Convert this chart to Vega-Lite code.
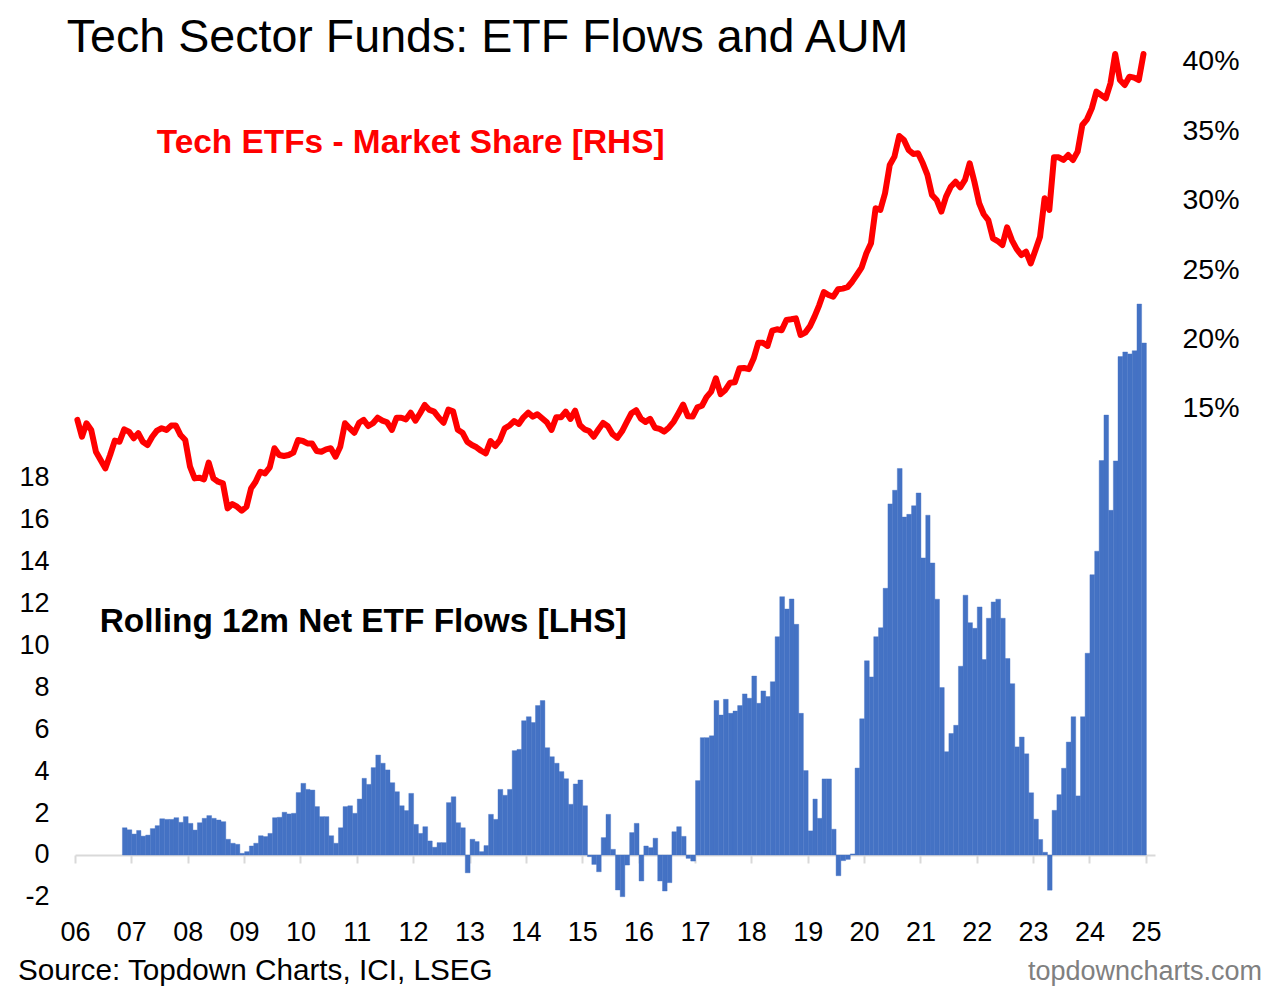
{
"$schema":"https://vega.github.io/schema/vega-lite/v6.json",
"width":1080,"height":875,"autosize":"none",
"padding":{"left":75,"top":30,"right":122,"bottom":85},
"background":"white",
"config":{"view":{"stroke":null},"font":"Liberation Sans","axis":{"grid":false,"labelFont":"Liberation Sans","labelColor":"#000000"}},
"data":{"format":{"parse":{"d":"date:'%Y-%m'"}},"values":[
{"d":"2006-01","s":14.14},{"d":"2006-02","s":12.93},{"d":"2006-03","s":13.9},{"d":"2006-04","s":13.42},{"d":"2006-05","s":11.85},{"d":"2006-06","s":11.25},{"d":"2006-07","s":10.65},{"d":"2006-08","s":11.61},{"d":"2006-09","s":12.65},{"d":"2006-10","s":12.57},{"d":"2006-11","s":13.46,"f":1.30},{"d":"2006-12","s":13.3,"f":1.20},
{"d":"2007-01","s":12.82,"f":1.00},{"d":"2007-02","s":13.18,"f":1.17},{"d":"2007-03","s":12.57,"f":0.90},{"d":"2007-04","s":12.33,"f":0.95},{"d":"2007-05","s":12.93,"f":1.26},{"d":"2007-06","s":13.37,"f":1.40},{"d":"2007-07","s":13.54,"f":1.73},{"d":"2007-08","s":13.42,"f":1.70},{"d":"2007-09","s":13.73,"f":1.70},{"d":"2007-10","s":13.73,"f":1.78},{"d":"2007-11","s":13.05,"f":1.56},{"d":"2007-12","s":12.69,"f":1.83},
{"d":"2008-01","s":10.77,"f":1.51},{"d":"2008-02","s":9.93,"f":1.19},{"d":"2008-03","s":9.98,"f":1.54},{"d":"2008-04","s":9.86,"f":1.75},{"d":"2008-05","s":11.06,"f":1.88},{"d":"2008-06","s":9.93,"f":1.75},{"d":"2008-07","s":9.69,"f":1.67},{"d":"2008-08","s":9.57,"f":1.59},{"d":"2008-09","s":7.77,"f":0.75},{"d":"2008-10","s":8.08,"f":0.56},{"d":"2008-11","s":7.89,"f":0.51},{"d":"2008-12","s":7.6,"f":0.08},
{"d":"2009-01","s":7.89,"f":0.16},{"d":"2009-02","s":9.21,"f":0.43},{"d":"2009-03","s":9.69,"f":0.56},{"d":"2009-04","s":10.41,"f":0.92},{"d":"2009-05","s":10.29,"f":0.88},{"d":"2009-06","s":10.72,"f":1.03},{"d":"2009-07","s":12.1,"f":1.78},{"d":"2009-08","s":11.61,"f":1.80},{"d":"2009-09","s":11.54,"f":2.04},{"d":"2009-10","s":11.61,"f":1.96},{"d":"2009-11","s":11.78,"f":1.99},{"d":"2009-12","s":12.69,"f":2.98},
{"d":"2010-01","s":12.62,"f":3.42},{"d":"2010-02","s":12.45,"f":3.13},{"d":"2010-03","s":12.45,"f":3.10},{"d":"2010-04","s":11.9,"f":2.31},{"d":"2010-05","s":11.85,"f":1.83},{"d":"2010-06","s":12.02,"f":1.83},{"d":"2010-07","s":12.1,"f":0.92},{"d":"2010-08","s":11.49,"f":0.56},{"d":"2010-09","s":12.21,"f":1.30},{"d":"2010-10","s":13.9,"f":2.31},{"d":"2010-11","s":13.54,"f":2.35},{"d":"2010-12","s":13.22,"f":1.99},
{"d":"2011-01","s":13.94,"f":2.67},{"d":"2011-02","s":14.14,"f":3.66},{"d":"2011-03","s":13.7,"f":3.37},{"d":"2011-04","s":13.9,"f":4.17},{"d":"2011-05","s":14.3,"f":4.77},{"d":"2011-06","s":14.09,"f":4.38},{"d":"2011-07","s":13.97,"f":4.06},{"d":"2011-08","s":13.42,"f":3.45},{"d":"2011-09","s":14.3,"f":3.02},{"d":"2011-10","s":14.3,"f":2.35},{"d":"2011-11","s":14.18,"f":2.12},{"d":"2011-12","s":14.66,"f":2.94},
{"d":"2012-01","s":14.09,"f":1.46},{"d":"2012-02","s":14.62,"f":1.03},{"d":"2012-03","s":15.22,"f":1.35},{"d":"2012-04","s":14.86,"f":0.67},{"d":"2012-05","s":14.74,"f":0.37},{"d":"2012-06","s":14.3,"f":0.59},{"d":"2012-07","s":13.94,"f":0.59},{"d":"2012-08","s":14.88,"f":2.50},{"d":"2012-09","s":14.76,"f":2.78},{"d":"2012-10","s":13.44,"f":1.54},{"d":"2012-11","s":13.22,"f":1.30},{"d":"2012-12","s":12.57,"f":-0.85},
{"d":"2013-01","s":12.33,"f":0.75},{"d":"2013-02","s":12.17,"f":0.64},{"d":"2013-03","s":11.92,"f":0.16},{"d":"2013-04","s":11.73,"f":0.45},{"d":"2013-05","s":12.62,"f":1.94},{"d":"2013-06","s":12.26,"f":1.70},{"d":"2013-07","s":12.69,"f":3.13},{"d":"2013-08","s":13.54,"f":2.85},{"d":"2013-09","s":13.73,"f":3.13},{"d":"2013-10","s":14.06,"f":4.98},{"d":"2013-11","s":13.85,"f":5.04},{"d":"2013-12","s":14.33,"f":6.41},
{"d":"2014-01","s":14.66,"f":6.60},{"d":"2014-02","s":14.38,"f":6.32},{"d":"2014-03","s":14.55,"f":7.13},{"d":"2014-04","s":14.26,"f":7.37},{"d":"2014-05","s":13.97,"f":5.12},{"d":"2014-06","s":13.42,"f":4.69},{"d":"2014-07","s":14.33,"f":4.38},{"d":"2014-08","s":14.33,"f":3.98},{"d":"2014-09","s":14.74,"f":3.64},{"d":"2014-10","s":14.21,"f":2.42},{"d":"2014-11","s":14.81,"f":3.39},{"d":"2014-12","s":13.78,"f":3.58},
{"d":"2015-01","s":13.46,"f":2.35},{"d":"2015-02","s":13.34,"f":-0.08},{"d":"2015-03","s":12.93,"f":-0.45},{"d":"2015-04","s":13.45,"f":-0.80},{"d":"2015-05","s":13.92,"f":0.83},{"d":"2015-06","s":13.68,"f":1.94},{"d":"2015-07","s":13.12,"f":0.27},{"d":"2015-08","s":12.85,"f":-1.67},{"d":"2015-09","s":13.32,"f":-1.99},{"d":"2015-10","s":13.98,"f":-0.48},{"d":"2015-11","s":14.62,"f":1.07},{"d":"2015-12","s":14.84,"f":1.51},
{"d":"2016-01","s":14.22,"f":-1.24},{"d":"2016-02","s":14.0,"f":0.43},{"d":"2016-03","s":14.22,"f":0.35},{"d":"2016-04","s":13.58,"f":0.80},{"d":"2016-05","s":13.5,"f":-1.24},{"d":"2016-06","s":13.3,"f":-1.72},{"d":"2016-07","s":13.6,"f":-1.32},{"d":"2016-08","s":14.02,"f":1.11},{"d":"2016-09","s":14.62,"f":1.35},{"d":"2016-10","s":15.25,"f":0.89},{"d":"2016-11","s":14.4,"f":-0.16},{"d":"2016-12","s":14.38,"f":-0.29},
{"d":"2017-01","s":15.04,"f":3.55},{"d":"2017-02","s":15.16,"f":5.60},{"d":"2017-03","s":15.78,"f":5.60},{"d":"2017-04","s":16.18,"f":5.69},{"d":"2017-05","s":17.14,"f":7.37},{"d":"2017-06","s":16.0,"f":6.68},{"d":"2017-07","s":16.3,"f":7.43},{"d":"2017-08","s":16.82,"f":6.76},{"d":"2017-09","s":16.85,"f":6.87},{"d":"2017-10","s":17.86,"f":7.13},{"d":"2017-11","s":17.88,"f":7.69},{"d":"2017-12","s":17.8,"f":7.48},
{"d":"2018-01","s":18.58,"f":8.54},{"d":"2018-02","s":19.7,"f":7.24},{"d":"2018-03","s":19.7,"f":7.83},{"d":"2018-04","s":19.47,"f":7.56},{"d":"2018-05","s":20.57,"f":8.27},{"d":"2018-06","s":20.67,"f":10.42},{"d":"2018-07","s":20.6,"f":12.33},{"d":"2018-08","s":21.34,"f":11.74},{"d":"2018-09","s":21.39,"f":12.22},{"d":"2018-10","s":21.46,"f":11.01},{"d":"2018-11","s":20.26,"f":6.76},{"d":"2018-12","s":20.43,"f":4.03},
{"d":"2019-01","s":20.9,"f":1.15},{"d":"2019-02","s":21.6,"f":2.67},{"d":"2019-03","s":22.4,"f":1.75},{"d":"2019-04","s":23.35,"f":3.63},{"d":"2019-05","s":23.14,"f":3.63},{"d":"2019-06","s":23.02,"f":1.23},{"d":"2019-07","s":23.55,"f":-0.99},{"d":"2019-08","s":23.6,"f":-0.27},{"d":"2019-09","s":23.7,"f":-0.21},{"d":"2019-10","s":24.1,"f":0.05},{"d":"2019-11","s":24.6,"f":4.15},{"d":"2019-12","s":25.11,"f":6.50},
{"d":"2020-01","s":26.15,"f":9.27},{"d":"2020-02","s":26.87,"f":8.50},{"d":"2020-03","s":29.39,"f":10.42},{"d":"2020-04","s":29.27,"f":10.85},{"d":"2020-05","s":30.47,"f":12.73},{"d":"2020-06","s":32.51,"f":16.76},{"d":"2020-07","s":33.11,"f":17.41},{"d":"2020-08","s":34.6,"f":18.45},{"d":"2020-09","s":34.31,"f":16.13},{"d":"2020-10","s":33.59,"f":16.26},{"d":"2020-11","s":33.3,"f":16.67},{"d":"2020-12","s":33.35,"f":17.28},
{"d":"2021-01","s":32.63,"f":14.18},{"d":"2021-02","s":31.79,"f":16.22},{"d":"2021-03","s":30.35,"f":13.94},{"d":"2021-04","s":29.99,"f":12.21},{"d":"2021-05","s":29.15,"f":7.99},{"d":"2021-06","s":30.23,"f":4.93},{"d":"2021-07","s":30.94,"f":5.80},{"d":"2021-08","s":31.3,"f":6.19},{"d":"2021-09","s":30.9,"f":9.01},{"d":"2021-10","s":31.43,"f":12.40},{"d":"2021-11","s":32.63,"f":11.09},{"d":"2021-12","s":31.3,"f":10.82},
{"d":"2022-01","s":29.75,"f":11.84},{"d":"2022-02","s":28.96,"f":9.33},{"d":"2022-03","s":28.54,"f":11.30},{"d":"2022-04","s":27.22,"f":12.08},{"d":"2022-05","s":27.03,"f":12.21},{"d":"2022-06","s":26.74,"f":11.30},{"d":"2022-07","s":28.02,"f":9.38},{"d":"2022-08","s":27.1,"f":8.18},{"d":"2022-09","s":26.46,"f":5.16},{"d":"2022-10","s":26.02,"f":5.63},{"d":"2022-11","s":26.26,"f":4.83},{"d":"2022-12","s":25.42,"f":2.97},
{"d":"2023-01","s":26.38,"f":1.71},{"d":"2023-02","s":27.34,"f":0.74},{"d":"2023-03","s":30.11,"f":0.13},{"d":"2023-04","s":29.27,"f":-1.68},{"d":"2023-05","s":33.06,"f":2.13},{"d":"2023-06","s":33.06,"f":2.88},{"d":"2023-07","s":32.87,"f":4.14},{"d":"2023-08","s":33.23,"f":5.39},{"d":"2023-09","s":32.87,"f":6.60},{"d":"2023-10","s":33.47,"f":2.82},{"d":"2023-11","s":35.39,"f":6.60},{"d":"2023-12","s":35.8,"f":9.63},
{"d":"2024-01","s":36.59,"f":13.38},{"d":"2024-02","s":37.79,"f":14.50},{"d":"2024-03","s":37.55,"f":18.83},{"d":"2024-04","s":37.31,"f":21.00},{"d":"2024-05","s":38.39,"f":16.45},{"d":"2024-06","s":40.5,"f":18.81},{"d":"2024-07","s":38.63,"f":23.79},{"d":"2024-08","s":38.27,"f":24.01},{"d":"2024-09","s":38.87,"f":23.92},{"d":"2024-10","s":38.8,"f":24.07},{"d":"2024-11","s":38.63,"f":26.30},{"d":"2024-12","s":40.5,"f":24.44}
]},
"layer":[
{"layer":[
{"mark":{"type":"bar","color":"#4472c4","binSpacing":0,"stroke":"#4472c4","strokeWidth":0.4},
 "encoding":{
  "x":{"field":"d","timeUnit":"yearmonth","type":"temporal","title":null,
   "scale":{"domain":[{"year":2006,"month":1,"date":1},{"year":2025,"month":3,"date":1}],"nice":false},
   "axis":{"values":[{"year":2006,"month":1,"date":1},{"year":2007,"month":1,"date":1},{"year":2008,"month":1,"date":1},{"year":2009,"month":1,"date":1},{"year":2010,"month":1,"date":1},{"year":2011,"month":1,"date":1},{"year":2012,"month":1,"date":1},{"year":2013,"month":1,"date":1},{"year":2014,"month":1,"date":1},{"year":2015,"month":1,"date":1},{"year":2016,"month":1,"date":1},{"year":2017,"month":1,"date":1},{"year":2018,"month":1,"date":1},{"year":2019,"month":1,"date":1},{"year":2020,"month":1,"date":1},{"year":2021,"month":1,"date":1},{"year":2022,"month":1,"date":1},{"year":2023,"month":1,"date":1},{"year":2024,"month":1,"date":1},{"year":2025,"month":1,"date":1}],
    "format":"%y","formatType":"time","offset":-50,"domainColor":"#d9d9d9","domainWidth":2,"tickColor":"#d9d9d9","tickWidth":2,"tickSize":8,
    "labelFontSize":27,"labelPadding":56,"labelFlush":false,"labelOverlap":false,"labelBound":false}},
  "y":{"field":"f","type":"quantitative","title":null,
   "scale":{"domain":[-2.387,39.38],"nice":false,"zero":false},
   "axis":{"orient":"left","values":[-2,0,2,4,6,8,10,12,14,16,18],"labelExpr":"datum.value < 0 ? '-' + abs(datum.value) : '' + datum.value","domain":false,"ticks":false,"labelFontSize":27,"labelPadding":26}}
 }},
{"data":{"values":[{}]},
 "mark":{"type":"text","text":"Tech Sector Funds: ETF Flows and AUM","fontSize":46.6,"align":"left","baseline":"alphabetic","color":"#000000"},
 "encoding":{
  "x":{"datum":{"year":2005,"month":11,"date":9},"type":"temporal","title":null,"scale":{"domain":[{"year":2006,"month":1,"date":1},{"year":2025,"month":3,"date":1}],"nice":false}},
  "y":{"datum":38.33,"type":"quantitative","title":null,"scale":{"domain":[-2.387,39.38],"nice":false,"zero":false}}}},
{"data":{"values":[{}]},
 "mark":{"type":"text","text":"Tech ETFs - Market Share [RHS]","fontSize":33.4,"fontWeight":"bold","align":"left","baseline":"alphabetic","color":"#ff0000"},
 "encoding":{
  "x":{"datum":{"year":2007,"month":6,"date":15},"type":"temporal","title":null,"scale":{"domain":[{"year":2006,"month":1,"date":1},{"year":2025,"month":3,"date":1}],"nice":false}},
  "y":{"datum":33.51,"type":"quantitative","title":null,"scale":{"domain":[-2.387,39.38],"nice":false,"zero":false}}}},
{"data":{"values":[{}]},
 "mark":{"type":"text","text":"Rolling 12m Net ETF Flows [LHS]","fontSize":33.4,"fontWeight":"bold","align":"left","baseline":"alphabetic","color":"#000000"},
 "encoding":{
  "x":{"datum":{"year":2006,"month":6,"date":10},"type":"temporal","title":null,"scale":{"domain":[{"year":2006,"month":1,"date":1},{"year":2025,"month":3,"date":1}],"nice":false}},
  "y":{"datum":10.64,"type":"quantitative","title":null,"scale":{"domain":[-2.387,39.38],"nice":false,"zero":false}}}},
{"data":{"values":[{}]},
 "mark":{"type":"text","text":"Source: Topdown Charts, ICI, LSEG","fontSize":29.7,"align":"left","baseline":"alphabetic","color":"#000000"},
 "encoding":{
  "x":{"datum":{"year":2004,"month":12,"date":27},"type":"temporal","title":null,"scale":{"domain":[{"year":2006,"month":1,"date":1},{"year":2025,"month":3,"date":1}],"nice":false}},
  "y":{"datum":-5.95,"type":"quantitative","title":null,"scale":{"domain":[-2.387,39.38],"nice":false,"zero":false}}}},
{"data":{"values":[{}]},
 "mark":{"type":"text","text":"topdowncharts.com","fontSize":27,"align":"right","baseline":"alphabetic","color":"#808080"},
 "encoding":{
  "x":{"datum":{"year":2027,"month":1,"date":24},"type":"temporal","title":null,"scale":{"domain":[{"year":2006,"month":1,"date":1},{"year":2025,"month":3,"date":1}],"nice":false}},
  "y":{"datum":-5.95,"type":"quantitative","title":null,"scale":{"domain":[-2.387,39.38],"nice":false,"zero":false}}}}
]},
{"mark":{"type":"line","color":"#ff0000","strokeWidth":6,"strokeJoin":"round","strokeCap":"round"},
 "encoding":{
  "x":{"field":"d","timeUnit":"yearmonth","type":"temporal","bandPosition":0.5,"title":null,
   "scale":{"domain":[{"year":2006,"month":1,"date":1},{"year":2025,"month":3,"date":1}],"nice":false}},
  "y":{"field":"s","type":"quantitative","title":null,
   "scale":{"domain":[-20.807,42.233],"nice":false,"zero":false},
   "axis":{"orient":"right","values":[15,20,25,30,35,40],"labelExpr":"datum.value + '%'","domain":false,"ticks":false,"labelFontSize":28.5,"labelPadding":27}}
 }}
],
"resolve":{"scale":{"y":"independent"}}
}
